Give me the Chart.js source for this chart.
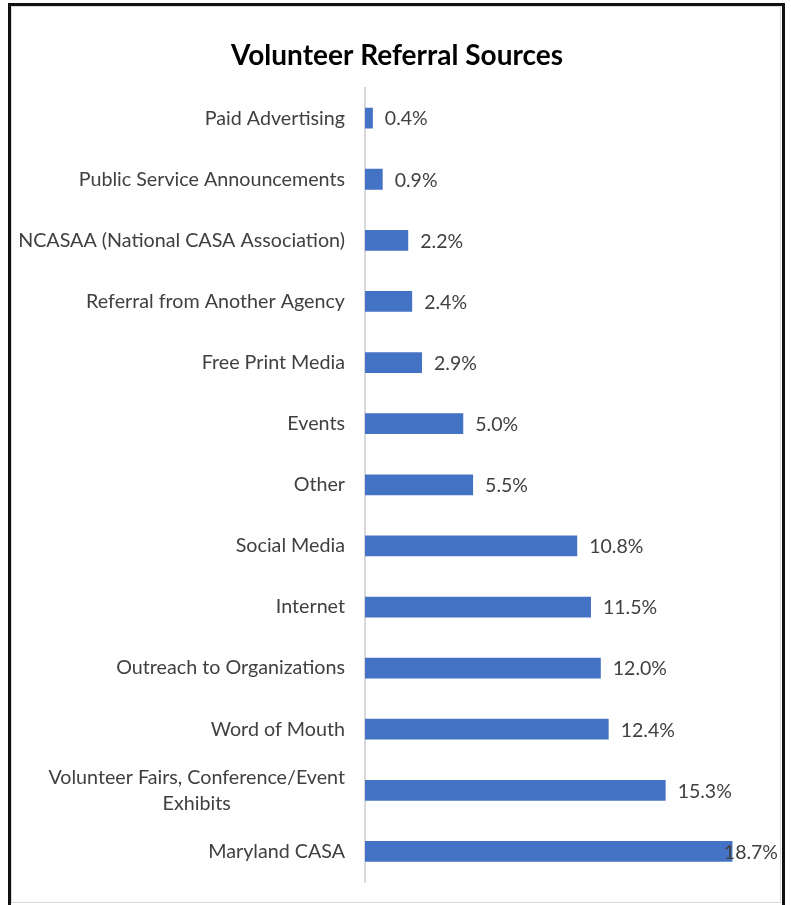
<!DOCTYPE html>
<html>
<head>
<meta charset="utf-8">
<script src="https://cdn.jsdelivr.net/npm/chart.js@4.4.1/dist/chart.umd.min.js"></script>
<style>
  html, body { margin: 0; padding: 0; background: #ffffff; }
  #wrap { position: relative; width: 791px; height: 905px; overflow: hidden; }
  #frame { position: absolute; left: 8px; top: 3px; width: 771px; height: 905px;
           border: 3px solid #111111; border-bottom: none; }
  #inner { position: absolute; left: 11px; top: 6px; width: 768px; height: 895px;
           border: 1px solid #d9d9d9; }
  canvas { position: absolute; left: 0; top: 0; }
</style>
</head>
<body>
<div id="wrap">
  <div id="frame"></div>
  <div id="inner"></div>
  <canvas id="chart" width="791" height="905"></canvas>
</div>
<script>
// Referral sources, listed top to bottom
const categories = [
  'Paid Advertising',
  'Public Service Announcements',
  'NCASAA (National CASA Association)',
  'Referral from Another Agency',
  'Free Print Media',
  'Events',
  'Other',
  'Social Media',
  'Internet',
  'Outreach to Organizations',
  'Word of Mouth',
  ['Volunteer Fairs, Conference/Event', 'Exhibits'],
  'Maryland CASA'
];
// Share of volunteers (%)
const shares = [0.4, 0.9, 2.2, 2.4, 2.9, 5.0, 5.5, 10.8, 11.5, 12.0, 12.4, 15.3, 18.7];
const chartTitle = 'Volunteer Referral Sources';

const FONT = 'Lato, "Open Sans", sans-serif';
const TEXT = '#404040';

// Category names: right-aligned block, multi-line names centred within it
const categoryLabels = {
  id: 'categoryLabels',
  afterDraw(chart) {
    const ctx = chart.ctx;
    const y = chart.scales.y;
    const right = chart.chartArea.left - 20;
    ctx.save();
    ctx.font = '19.7px ' + FONT;
    ctx.fillStyle = TEXT;
    ctx.textBaseline = 'middle';
    ctx.textAlign = 'center';
    categories.forEach((c, i) => {
      const lines = Array.isArray(c) ? c : [c];
      const w = Math.max(...lines.map(l => ctx.measureText(l).width));
      const cx = right - w / 2;
      const lh = 26;
      const py = y.getPixelForValue(i);
      lines.forEach((l, k) => {
        ctx.fillText(l, cx, py + (k - (lines.length - 1) / 2) * lh);
      });
    });
    ctx.restore();
  }
};

// Value labels at the end of each bar, kept inside the frame
const valueLabels = {
  id: 'valueLabels',
  afterDatasetsDraw(chart) {
    const ctx = chart.ctx;
    const meta = chart.getDatasetMeta(0);
    ctx.save();
    ctx.font = '19.5px ' + FONT;
    ctx.fillStyle = TEXT;
    ctx.textBaseline = 'middle';
    ctx.textAlign = 'left';
    meta.data.forEach((bar, i) => {
      const txt = shares[i].toFixed(1) + '%';
      const w = ctx.measureText(txt).width;
      const x = Math.min(bar.x + 12, 778 - w);
      ctx.fillText(txt, x, bar.y + 1);
    });
    ctx.restore();
  }
};

new Chart(document.getElementById('chart'), {
  type: 'bar',
  data: {
    labels: categories,
    datasets: [{
      data: shares,
      backgroundColor: '#4472C4',
      borderWidth: 0,
      barPercentage: 0.68,
      categoryPercentage: 0.5
    }]
  },
  options: {
    indexAxis: 'y',
    responsive: false,
    animation: false,
    layout: { padding: { left: 36, right: 33, top: 0, bottom: 23 } },
    plugins: {
      legend: { display: false },
      tooltip: { enabled: false },
      title: {
        display: true,
        text: chartTitle,
        color: '#000000',
        font: { family: FONT, size: 28, weight: 'bold' },
        padding: { top: 39, bottom: 15 }
      }
    },
    scales: {
      x: {
        display: false,
        min: 0,
        max: 20
      },
      y: {
        display: true,
        grid: { display: false },
        border: { display: true, color: '#d9d9d9', width: 2 },
        ticks: { display: false },
        afterFit(scale) { scale.width = 329; }
      }
    }
  },
  plugins: [categoryLabels, valueLabels]
});
</script>
</body>
</html>
